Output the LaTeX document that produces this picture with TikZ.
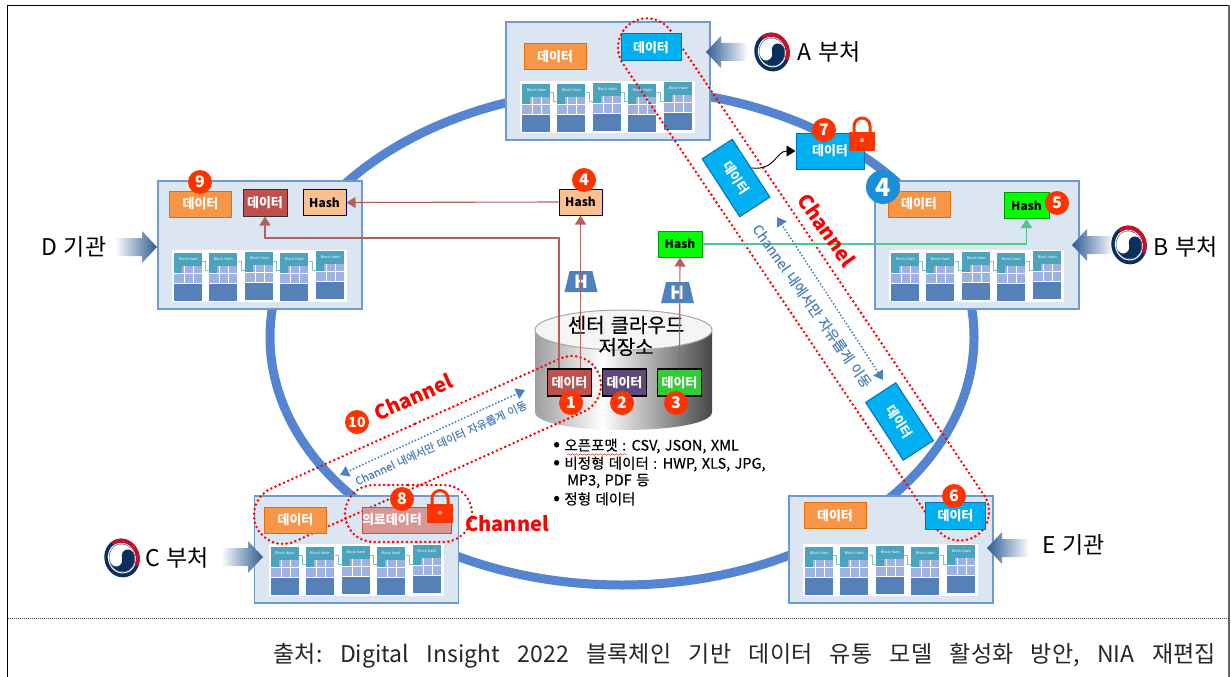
\documentclass[tikz,border=0pt]{standalone}
\usepackage{fontspec}
\usepackage{xcolor}
\usepackage{tikz}
\usetikzlibrary{arrows.meta,shapes.geometric,shapes.misc,decorations.pathmorphing}
\setmainfont[WordSpace=1.35]{Noto Sans CJK KR}
\newfontfamily\mediumfont[WordSpace=1.35,FakeBold=0.35]{Noto Sans CJK KR}
\definecolor{ringblue}{HTML}{5585D0}
\definecolor{panelfill}{HTML}{DCE6F2}
\definecolor{paneledge}{HTML}{6E9AD0}
\definecolor{dataorange}{HTML}{F79646}
\definecolor{dataorangeedge}{HTML}{E36C0A}
\definecolor{datacyan}{HTML}{00B0F0}
\definecolor{datacyanedge}{HTML}{0070C0}
\definecolor{badgered}{HTML}{FF3300}
\definecolor{hashred}{HTML}{B5605C}
\definecolor{hashgreen}{HTML}{50C88A}
\definecolor{labelblue}{HTML}{4F81BD}
\definecolor{navyflag}{HTML}{0B2F5C}
\definecolor{flagred}{HTML}{C8102E}
\definecolor{arrowdark}{HTML}{2E5C94}
\definecolor{datared}{HTML}{C0504D}
\definecolor{datapurple}{HTML}{5F497A}
\definecolor{datagreen}{HTML}{33CC33}
\definecolor{medpink}{HTML}{D99694}
\definecolor{hashpeach}{HTML}{FAC090}
\definecolor{blockhead}{HTML}{4BA3BE}
\definecolor{blockgrid}{HTML}{9DB2E0}
\definecolor{blockbase}{HTML}{5580B8}
\definecolor{bluefour}{HTML}{1B8DD9}
\pgfdeclarehorizontalshading{cylinderside}{100bp}{rgb(0bp)=(.62,.62,.62); rgb(25bp)=(.62,.62,.62); rgb(44bp)=(1,1,1); rgb(75bp)=(.28,.28,.28); rgb(100bp)=(.28,.28,.28)}
\tikzset{
  panel/.style={draw=paneledge,fill=panelfill,line width=1.3pt,minimum width=204pt,inner sep=0pt},
  databox/.style={draw,line width=1pt,text=white,font=\fontsize{13}{14}\selectfont\bfseries,minimum width=44pt,minimum height=27pt,inner sep=0pt},
  orangebox/.style={databox,draw=dataorangeedge,fill=dataorange,minimum width=62pt,minimum height=26pt},
  cyanbox/.style={databox,draw=datacyanedge,fill=datacyan,minimum width=60pt},
  hashbox/.style={draw,line width=1pt,text=black,font=\fontsize{12}{13}\selectfont\bfseries,minimum width=43pt,minimum height=26pt,inner sep=0pt},
  badge/.style={circle,fill=badgered,text=white,font=\fontsize{16}{16}\selectfont\bfseries,minimum size=24pt,inner sep=0pt},
  hnode/.style={trapezium,trapezium left angle=77,trapezium right angle=77,trapezium stretches=true,fill=labelblue,text=white,font=\fontsize{18}{18}\selectfont\bfseries,minimum width=33pt,minimum height=21pt,inner sep=0pt},
  channelband/.style={rounded rectangle,draw=red,line width=2.8pt,dash pattern=on 0pt off 4.6pt,line cap=round,inner sep=0pt,minimum height=58pt},
  channeltext/.style={text=red,font=\fontsize{20}{20}\selectfont\bfseries,inner sep=0pt},
  movearrow/.style={{Triangle[width=11pt,length=9pt]}-{Triangle[width=11pt,length=9pt]},draw=labelblue,line width=2.2pt,dash pattern=on 0pt off 3.4pt,line cap=round},
  movetext/.style={text=labelblue,inner sep=0pt},
  redline/.style={draw=hashred,line width=1.1pt,-{Triangle[width=11pt,length=9pt]}},
  greenline/.style={draw=hashgreen,line width=1.5pt,-{Triangle[width=11pt,length=9pt]}},
  agencytext/.style={anchor=west,font=\fontsize{23}{23}\selectfont,inner sep=0pt},
  bullettext/.style={anchor=west,font=\fontsize{14.5}{15}\mediumfont,inner sep=0pt},
  blockstrip/.pic={
    \fill[white] (0,0) rectangle (175,52);
    \foreach \bx/\by in {2/3,37/3,73/2,108/3,144/1}{
      \fill[blockbase] (\bx,\by+31) rectangle (\bx+28,\by+48);
      \fill[blockgrid] (\bx,\by+13) rectangle (\bx+28,\by+30);
      \fill[blockhead] (\bx,\by) rectangle (\bx+28,\by+13);
      \fill[blockhead] (\bx,\by+13) rectangle (\bx+8,\by+20);
      \draw[white,line width=.6pt] (\bx,\by+21) -- (\bx+28,\by+21) (\bx+10,\by+13) -- (\bx+10,\by+30) (\bx+19,\by+13) -- (\bx+19,\by+30);
      \node[text=white,font=\fontsize{3.6}{4}\selectfont,inner sep=0pt] at (\bx+14,\by+6) {Block Hash};
    }
    \foreach \bx in {30,66,101,137}
      \draw[blockhead!70,line width=.6pt] (\bx,12) -- (\bx+3,12) -- (\bx+3,21) -- (\bx+7,21);
  },
  arrowleft/.pic={
    \shade[left color=arrowdark,right color=white] (0,0) -- (15,-16) -- (15,-9) -- (42,-9) -- (42,9) -- (15,9) -- (15,16) -- cycle;
  },
  arrowright/.pic={
    \shade[right color=arrowdark,left color=white] (0,0) -- (-15,-16) -- (-15,-9) -- (-42,-9) -- (-42,9) -- (-15,9) -- (-15,16) -- cycle;
  },
  govemblem/.pic={
    \begin{scope}[x=.9pt,y=1pt,rotate=15]
      \fill[navyflag] (0,0) circle (19.5);
      \draw[white,line width=1pt] (0,0) circle (15);
      \draw[flagred,line width=4pt] (110:17.5) arc (110:-40:17.5);
      \fill[white] (0,0) circle (14);
      \fill[navyflag] (-14,0) arc (180:360:14) arc (0:180:7) arc (0:-180:7) -- cycle;
    \end{scope}
  },
  padlock/.pic={
    \begin{scope}[x=1pt,y=1pt]
      \draw[badgered,line width=3pt] (-8,9) -- (-8,15) arc (180:0:8) -- (8,9);
      \fill[badgered] (-13,-9.5) rectangle (13,9.5);
      \fill[white!55!badgered] (0,1) circle (2.2);
    \end{scope}
  }
}
\begin{document}
\begin{tikzpicture}[x=1pt,y=-1pt]
  \useasboundingbox (0,0) rectangle (1231,677);
  % frame
  \draw[line width=1.5pt] (7.5,677) -- (7.5,5.5) -- (1229,5.5);
  \draw[black!60,line width=1.2pt] (1229,5.5) -- (1229,677);
  \draw[black!70,line width=1pt,dash pattern=on 1pt off 1pt] (8,618) -- (1229,618);
  \node[inner sep=0pt,anchor=east,text=black!85,font=\fontsize{23}{25}\selectfont] (source) at (1216,656)
    {\frenchspacing\makebox[942pt][s]{출처: Digital Insight 2022 블록체인 기반 데이터 유통 모델 활성화 방안, NIA 재편집}};

  % ring and panels
  \draw[ringblue,line width=9pt] (622,337) ellipse (352 and 248);
  \foreach \pname/\px/\py/\ph in {A/608/81/118,D/260/245/128,B/977/245/128,C/356.5/549.5/107,E/891/549.5/107}{
    \node[panel,minimum height=\ph] (panel\pname) at (\px,\py) {};
    \pic at ([xshift=15pt,yshift=60pt]panel\pname.south west) {blockstrip};
  }

  % storage
  \shade[shading=cylinderside] (535,330) -- (535,412) .. controls (535,436) and (712,436) .. (712,412) -- (712,330) -- cycle;
  \draw[black!35,fill=black!4,line width=1pt] (623.5,330) ellipse (88.5 and 20);
  \node[inner sep=0pt,align=center,font=\fontsize{20}{22}\mediumfont] (storage) at (626,336) {센터 클라우드\\저장소};
  \node[hnode] (hLeft) at (581,281.5) {H};
  \node[hnode] (hRight) at (677.5,292.5) {H};

  % channels
  \node[channelband,rotate=-56,minimum width=618pt] (channelAE) at (803.5,279.5) {};
  \node[channelband,rotate=24.2,minimum width=375pt] (channelCS) at (427.5,450) {};
  \node[channelband,minimum width=127pt,minimum height=57pt] (channelMed) at (408.5,513.5) {};

  % data boxes
  \node[orangebox] (dataA) at (555,57) {데이터};
  \node[cyanbox] (shareA) at (651,47.5) {데이터};
  \node[orangebox] (dataD) at (200.5,204) {데이터};
  \node[databox,fill=datared,draw=black!80] (redD) at (265,202.5) {데이터};
  \node[hashbox,fill=hashpeach,draw=blue!40!black] (hashD) at (324.5,202.5) {Hash};
  \node[orangebox] (dataB) at (919,204) {데이터};
  \node[hashbox,fill=green,draw=green!60!black,minimum width=45pt] (hashB) at (1026.5,205.5) {Hash};
  \node[orangebox] (dataC) at (295.5,520) {데이터};
  \node[databox,fill=medpink,draw=datared,minimum height=26pt,text width=89pt,align=left] (medC) at (406.5,520) {의료데이터};
  \node[orangebox] (dataE) at (835,515.5) {데이터};
  \node[cyanbox] (shareE) at (955.5,515.5) {데이터};
  \node[hashbox,fill=hashpeach,draw=blue!40!black] (hashTop) at (580.5,202) {Hash};
  \node[hashbox,fill=green,draw=green!60!black,minimum width=44pt] (hashMid) at (680,244) {Hash};
  \node[databox,fill=datared,draw=black,line width=1.2pt] (dataOne) at (569.5,382.5) {데이터};
  \node[databox,fill=datapurple,draw=black,line width=1.2pt] (dataTwo) at (624.5,382.5) {데이터};
  \node[databox,fill=datagreen,draw=black,line width=1.2pt] (dataThree) at (679.5,382.5) {데이터};
  \node[cyanbox,minimum width=68pt,minimum height=36pt] (dataLock) at (830,151) {데이터};
  \node[cyanbox,rotate=-57,minimum width=69pt,minimum height=36pt] (moveUp) at (736,178) {데이터};
  \node[cyanbox,rotate=-57,minimum width=69pt,minimum height=36pt] (moveDown) at (899.5,421.5) {데이터};

  % connectors
  \coordinate (bendD) at (265,238);
  \coordinate (bendB) at (1026.5,244);
  \draw[redline] ([xshift=-10.5pt]dataOne.north) |- (bendD) -- (redD.south);
  \draw[redline] ([xshift=11pt]dataOne.north) -- (hashTop.south);
  \draw[redline] (hashTop.west) -- (hashD.east);
  \draw[redline] (dataThree.north) -- (hashMid.south);
  \draw[greenline] (hashMid.east) -- (bendB) -- (hashB.south);
  \draw[-{Triangle[width=11pt,length=9pt]},line width=.9pt] (moveUp.north) .. controls (775,171) and (776,151) .. (dataLock.west);
  \coordinate (moveTopAE) at (777,217);
  \coordinate (moveEndAE) at (883,380);
  \coordinate (moveTopCS) at (525,390);
  \coordinate (moveEndCS) at (340,475);
  \draw[movearrow] (moveTopAE) -- (moveEndAE);
  \draw[movearrow] (moveTopCS) -- (moveEndCS);

  % agencies
  \pic at (706,52) {arrowleft};
  \pic at (1072,245) {arrowleft};
  \pic at (987,548) {arrowleft};
  \pic at (157,247) {arrowright};
  \pic at (263,557) {arrowright};
  \pic at (772,52) {govemblem};
  \pic at (1129,245) {govemblem};
  \pic at (122,558) {govemblem};
  \node[agencytext] (labelA) at (797,52) {A 부처};
  \node[agencytext] (labelB) at (1153,247) {B 부처};
  \node[agencytext] (labelC) at (145,558) {C 부처};
  \node[agencytext] (labelD) at (41,247) {D 기관};
  \node[agencytext] (labelE) at (1042,545) {E 기관};

  % locks
  \pic at (862,141) {padlock};
  \pic at (440,513.5) {padlock};

  % texts on the channels
  \node[channeltext,rotate=-55] (channelOne) at (827,230) {Channel};
  \node[channeltext,rotate=24] (channelTwo) at (413,397) {Channel};
  \node[channeltext] (channelThree) at (507,524) {Channel};
  \node[movetext,rotate=-55,font=\fontsize{14}{15}\mediumfont] (moveTextAE) at (812,306) {Channel 내에서만 자유롭게 이동};
  \node[movetext,rotate=24.5,font=\fontsize{11}{12}\mediumfont] (moveTextCS) at (441,443) {Channel 내에서만 데이터 자유롭게 이동};

  % numbers
  \node[badge] (numOne) at (571,403) {1};
  \node[badge] (numTwo) at (622,403) {2};
  \node[badge] (numThree) at (676,403) {3};
  \node[badge] (numFour) at (584,180) {4};
  \node[badge] (numFive) at (1057,203) {5};
  \node[badge] (numSix) at (954,496) {6};
  \node[badge] (numSeven) at (824,130) {7};
  \node[badge] (numEight) at (402,499) {8};
  \node[badge] (numNine) at (200,182) {9};
  \node[badge,font=\fontsize{14}{14}\selectfont\bfseries] (numTen) at (357,422) {10};
  \node[circle,fill=bluefour,text=white,font=\fontsize{25}{25}\selectfont\bfseries,minimum size=34pt,inner sep=0pt] (numBlue) at (883,187) {4};

  % list of formats
  \foreach \ly/\lx/\ltxt in {446/553/{{\fontsize{20}{15}\selectfont•} 오픈포맷 : CSV, JSON, XML},464/553/{{\fontsize{20}{15}\selectfont•} 비정형 데이터 : HWP, XLS, JPG,},481/567/{MP3, PDF 등},499/553/{{\fontsize{20}{15}\selectfont•} 정형 데이터}}
    \node[bullettext] at (\lx,\ly) {\ltxt};
  \draw[red,line width=.4pt,decorate,decoration={snake,amplitude=.8pt,segment length=4pt}] (567,454.5) -- (627,454.5);
\end{tikzpicture}
\end{document}
